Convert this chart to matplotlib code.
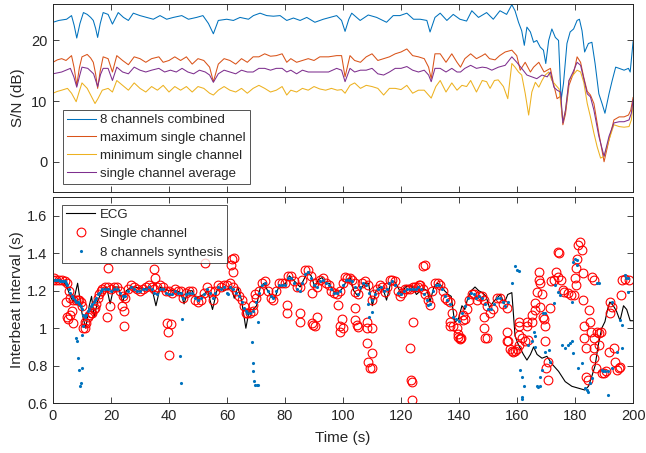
import matplotlib
matplotlib.use("Agg")
import matplotlib.pyplot as plt
from matplotlib.ticker import FuncFormatter

plt.rcParams['font.family'] = ['Liberation Sans', 'DejaVu Sans']

# ---------------- S/N data (time s, dB) ----------------
sn_combined = [
    (0, 23.0), (2, 23.3), (4.7, 23.5), (6.4, 24.1), (7.3, 22.5), (8.2, 20.4), (9.3, 22.8),
    (10.5, 24.6), (11.8, 24.3), (13, 23.8), (13.9, 23.3), (14.7, 22.0), (15.4, 20.5), (16.3, 22.8),
    (17.3, 24.6), (19, 24.3), (20.5, 22.7), (22.5, 24.6), (24.3, 23.8), (26, 23.3), (27.7, 24.5),
    (30, 24.1), (32.3, 23.8), (34.6, 23.5), (36.9, 24.1), (39.2, 23.5), (41.5, 23.8), (44.4, 24.1),
    (46.7, 23.5), (49.5, 23.8), (51.7, 24.1), (53.6, 22.8), (55.3, 21.1), (57, 23.3), (59.9, 23.5),
    (62.2, 23.3), (64.5, 23.8), (67.4, 23.5), (69.1, 24.1), (71.4, 24.5), (73.7, 24.1), (76, 24.0),
    (78.3, 24.1), (80.6, 23.3), (82.9, 23.7), (85.2, 23.3), (87.5, 23.8), (90.3, 23.0), (93.2, 23.5),
    (95.5, 23.8), (97.8, 24.1), (99.5, 23.3), (100.7, 21.5), (102, 23.5), (103, 24.5), (105.9, 23.3),
    (108.7, 24.2), (111.6, 23.8), (115, 23.0), (117.3, 24.1), (119.6, 24.1), (122, 24.5),
    (124.3, 23.5), (126.6, 23.5), (128.9, 23.3), (130, 21.4), (131.7, 23.8), (133.5, 24.5),
    (135.8, 23.3), (138, 24.3), (140.3, 23.5), (142.6, 23.2), (144.4, 24.9), (146.7, 23.8),
    (149.5, 24.6), (151.8, 23.5), (154.1, 24.9), (156.4, 24.3), (158.2, 25.9), (159.3, 24.9),
    (160.5, 23.0), (161.6, 21.6), (162.5, 19.2), (163.4, 22.2), (164.6, 21.4), (165.7, 19.7),
    (166.8, 20.0), (168, 18.9), (169.1, 18.4), (169.9, 16.2), (170.9, 20.0), (172, 21.9),
    (173.2, 20.5), (174.3, 20.0), (175.2, 10.2), (176, 12.9), (177.2, 19.5), (178.3, 21.4),
    (179.5, 21.9), (180.7, 23.3), (181.5, 23.5), (182.4, 21.6), (183.3, 18.1), (184.6, 19.5),
    (185.8, 19.7), (186.9, 16.2), (188.2, 11.2), (189.3, 9.6), (190.3, 8.0), (191.7, 11.2),
    (192.8, 13.4), (194, 15.6), (195.2, 15.4), (196.9, 15.1), (198.4, 15.4), (199, 14.8), (200, 19.8),
]
sn_max = [
    (0, 16.4), (1.5, 16.8), (3, 17.0), (4.5, 16.7), (6.4, 17.5), (7.3, 15.5), (8.2, 12.6), (9.1, 15.5),
    (10, 17.3), (11.8, 17.7), (13, 17.1), (13.9, 16.4), (14.7, 14.5), (15.4, 12.1), (16.3, 15.0),
    (17.3, 17.3), (19, 17.0), (20.5, 14.8), (22, 17.5), (24, 16.7), (26, 16.0), (28, 17.3), (30, 17.0),
    (32, 16.4), (34, 17.0), (36.5, 17.3), (38, 16.4), (40, 16.7), (42, 17.3), (44, 16.7), (46, 17.3),
    (48, 16.1), (50, 17.0), (52, 16.7), (54, 15.6), (55.3, 13.2), (57, 16.1), (59, 17.0), (61, 16.7),
    (63, 16.1), (65, 17.0), (67, 16.4), (69, 17.3), (71, 17.3), (73, 17.8), (75, 17.4), (77, 17.5),
    (79, 17.8), (80.6, 16.4), (82, 17.0), (84, 16.4), (86, 16.7), (88, 17.0), (90, 16.7), (92, 17.3),
    (95, 17.3), (97.8, 17.5), (99.5, 17.5), (100.7, 14.0), (102.4, 17.5), (104, 16.7), (106, 16.4),
    (108, 17.3), (110, 17.8), (112, 16.7), (114, 17.0), (116, 17.3), (118, 17.8), (120, 18.1),
    (122, 18.6), (124, 17.5), (126, 17.3), (128, 17.0), (129.5, 15.6), (130.4, 13.7), (131.7, 17.8),
    (133.5, 17.8), (135.5, 16.4), (137.5, 17.8), (139.3, 16.4), (140.5, 15.6), (142, 17.0),
    (144, 17.8), (146, 17.0), (148, 17.5), (149, 17.8), (150.5, 17.0), (152.4, 16.8), (154, 17.5),
    (155.9, 18.1), (158.2, 18.4), (159.9, 17.5), (161.1, 15.1), (162.8, 16.4), (164.6, 14.8),
    (165.7, 15.6), (167.5, 16.4), (169.3, 14.8), (170.4, 15.1), (171.5, 15.4), (172.7, 12.6),
    (173.8, 10.4), (175, 10.8), (175.8, 6.1), (176.7, 7.9), (177.9, 12.6), (179.6, 14.8),
    (180.7, 17.3), (181.9, 16.4), (183, 13.9), (184.2, 11.6), (185.3, 11.0), (186.5, 9.6),
    (188.2, 4.7), (190, 0.0), (191.7, 3.6), (193.4, 6.9), (195.2, 7.4), (196.9, 7.4), (198.4, 7.7),
    (199.2, 8.5), (200, 10.6),
]
sn_min = [
    (0, 11.3), (1.5, 11.6), (3, 11.8), (5, 12.1), (6.4, 11.3), (8, 9.9), (9, 11.5), (10, 13.0),
    (11.8, 12.1), (13, 11.0), (14.5, 9.6), (15.5, 10.4), (17, 11.8), (19, 12.1), (20.5, 11.5),
    (22, 13.4), (24, 12.6), (26, 11.8), (28, 13.0), (30, 12.1), (32, 11.5), (34, 12.4), (36, 11.8),
    (38, 12.6), (40, 11.5), (42, 12.4), (44, 11.8), (46, 12.4), (48, 11.5), (50, 12.4), (52, 12.1),
    (54, 11.3), (55.3, 11.0), (57, 11.8), (59, 12.4), (61, 11.8), (63, 11.5), (65, 12.1), (67, 11.3),
    (69, 12.1), (71, 12.6), (73, 12.1), (75, 11.5), (77, 11.8), (79, 12.4), (80.6, 11.0), (82, 11.8),
    (84, 11.5), (86, 12.1), (88, 11.8), (90, 12.4), (92, 12.0), (94, 11.8), (96, 12.1), (98, 11.8),
    (99.5, 11.9), (100.7, 11.3), (102.4, 12.6), (104, 13.0), (106, 12.1), (108, 12.6), (110, 12.4),
    (112, 12.1), (114, 11.0), (116, 12.1), (118, 12.1), (120, 11.9), (122, 12.6), (124, 11.3),
    (126, 11.8), (128, 11.8), (130.4, 10.5), (132, 12.4), (133.5, 13.4), (135.5, 11.5), (137.5, 13.0),
    (139.3, 11.8), (141, 12.6), (142.6, 12.4), (144, 13.4), (146, 11.5), (148, 13.4), (149.5, 13.2),
    (150.7, 12.1), (152.2, 13.4), (153.5, 13.5), (155.3, 12.4), (156.8, 10.4), (158.2, 16.2),
    (159.3, 15.6), (160.5, 14.8), (161.6, 14.3), (162.8, 11.3), (164, 7.7), (165.1, 11.5),
    (166.3, 13.1), (167.5, 12.3), (168.6, 13.4), (169.7, 14.3), (170.9, 14.8), (172, 13.4),
    (173.4, 12.6), (174.5, 12.0), (175.8, 6.6), (176.7, 8.5), (177.9, 13.4), (179.3, 14.3),
    (180.7, 15.1), (181.9, 14.8), (183, 13.1), (184.2, 9.6), (185.3, 7.4), (186.5, 4.7), (187.6, 2.5),
    (188.8, 0.6), (190, 0.9), (191.7, 3.6), (193.4, 6.1), (195.2, 5.8), (196.9, 5.7), (198.6, 5.8),
    (199.4, 6.9), (200, 9.6),
]
sn_avg = [
    (0, 14.5), (3, 14.8), (6, 15.4), (7.2, 14.0), (8.2, 12.3), (9.2, 14.2), (10, 15.6), (12, 15.4),
    (14, 14.5), (15.4, 12.4), (16.4, 14.4), (17.3, 15.4), (19, 15.4), (20.5, 13.4), (22, 15.6),
    (24, 14.8), (26, 14.5), (28, 15.6), (30, 15.1), (32, 14.8), (34, 15.1), (36.5, 15.4), (38.5, 14.8),
    (40.5, 15.1), (42.5, 14.8), (44.5, 15.4), (46.5, 14.8), (48.5, 14.5), (50.5, 15.1), (52.5, 14.8),
    (54, 14.3), (55.3, 13.1), (57, 14.5), (59, 15.1), (61, 14.8), (63, 14.5), (65, 15.1), (67, 14.8),
    (69, 14.8), (71, 15.4), (73, 15.4), (75, 15.1), (77, 15.4), (79, 15.4), (80.6, 14.8), (82, 15.1),
    (84, 14.5), (86, 15.1), (88, 14.8), (90, 14.8), (92, 14.8), (95, 14.8), (97.8, 15.4), (99.5, 15.1),
    (100.7, 13.2), (102.4, 15.4), (104, 14.8), (106, 15.1), (108, 15.1), (110, 15.4), (112, 14.5),
    (114, 14.3), (116, 14.8), (118, 15.4), (120, 15.4), (122, 15.7), (124, 15.1), (126, 14.8),
    (128, 15.1), (129.5, 14.3), (130.4, 13.2), (131.7, 15.4), (133.5, 15.4), (135.5, 14.8),
    (137.5, 15.4), (139.3, 14.8), (140.5, 14.8), (142, 15.4), (144, 15.9), (146, 15.4), (148, 15.6),
    (149.5, 15.5), (151.3, 15.1), (153.6, 15.6), (155.9, 15.9), (158.2, 17.3), (159.9, 16.4),
    (161.6, 15.4), (163.4, 14.3), (165.1, 14.0), (166.8, 13.7), (168.6, 14.3), (170.4, 14.0),
    (171.5, 14.8), (172.7, 12.3), (173.8, 11.8), (175, 11.5), (175.8, 6.4), (176.7, 8.5),
    (177.9, 13.4), (179.3, 14.8), (180.7, 16.4), (181.9, 15.9), (183, 13.7), (184.2, 11.2),
    (185.3, 10.7), (186.5, 8.5), (188.2, 4.2), (190, 0.9), (191.7, 4.2), (193.4, 6.4), (195.2, 6.6),
    (196.9, 6.6), (198.6, 6.9), (199.4, 8.0), (200, 10.2),
]

# ---------------- Interbeat interval data (time s, interval s) ----------------
ecg = [
    (0, 1.26), (1.2, 1.26), (2.4, 1.26), (3.6, 1.25), (4.8, 1.22), (6.0, 1.17), (7.0, 1.14),
    (8.5, 1.24), (10, 1.08), (11.3, 1.0), (12.5, 1.12), (13.3, 1.17), (14.2, 1.06), (15.5, 1.15),
    (17, 1.2), (18.5, 1.22), (19.7, 1.13), (21, 1.22), (22.5, 1.22), (24, 1.14), (25.3, 1.2),
    (27, 1.22), (28.5, 1.22), (30, 1.21), (31.5, 1.21), (33, 1.22), (34.3, 1.2), (35.5, 1.12),
    (37, 1.22), (38.5, 1.21), (40, 1.2), (41.5, 1.2), (42.8, 1.2), (44, 1.19), (45.2, 1.13),
    (46.5, 1.2), (48, 1.2), (49.3, 1.16), (50.5, 1.17), (52, 1.18), (53.3, 1.2), (55, 1.1),
    (56.5, 1.2), (57.7, 1.22), (59, 1.2), (60.3, 1.21), (61.5, 1.22), (62.5, 1.16), (63.7, 1.22),
    (65, 1.15), (66.5, 1.0), (67.7, 1.1), (69, 1.1), (70.2, 1.12), (71.5, 1.22), (72.8, 1.24),
    (74, 1.2), (75.3, 1.17), (76.5, 1.16), (77.8, 1.22), (79, 1.23), (80.2, 1.24), (81.5, 1.28),
    (82.7, 1.26), (84, 1.24), (85.2, 1.22), (86.5, 1.26), (87.8, 1.3), (89, 1.28), (90.3, 1.22),
    (91.5, 1.26), (92.8, 1.27), (94, 1.24), (95.3, 1.24), (96.5, 1.2), (97.8, 1.19), (99, 1.2),
    (100.2, 1.22), (101.3, 1.26), (102.5, 1.27), (103.7, 1.2), (105.2, 1.17), (106.5, 1.22),
    (107.7, 1.24), (108.8, 1.24), (110.1, 1.12), (111.4, 1.2), (112.7, 1.22), (114, 1.2),
    (115, 1.15), (116.4, 1.24), (117.7, 1.25), (118.9, 1.22), (120.2, 1.18), (121.5, 1.22),
    (122.8, 1.23), (124, 1.22), (125.3, 1.18), (126.7, 1.2), (128, 1.21), (129, 1.2), (130, 1.14),
    (131.3, 1.22), (132.5, 1.24), (133.7, 1.23), (135, 1.2), (136.3, 1.18), (137.3, 1.17),
    (138.5, 1.03), (139.8, 1.05), (141, 1.12), (142, 1.1), (143, 1.16), (144.2, 1.2), (145.5, 1.22),
    (146.8, 1.2), (148, 1.19), (149.3, 1.17), (150.5, 1.11), (151.8, 1.14), (153, 1.16),
    (154.3, 1.18), (155.5, 1.13), (156.8, 1.18), (158.2, 1.19), (159.3, 0.96), (160.5, 0.91),
    (162.2, 0.86), (163.4, 0.83), (164.6, 0.86), (165.7, 0.9), (166.9, 0.86), (168.6, 0.84),
    (170.3, 0.85), (172, 0.81), (174.3, 0.77), (176.6, 0.715), (178.9, 0.69), (181.2, 0.68),
    (183.4, 0.67), (184.6, 0.69), (185.5, 0.73), (186.9, 0.8), (188, 0.91), (189.2, 1.0),
    (190.3, 1.035), (191.2, 1.1), (192, 1.14), (193.2, 1.12), (194.3, 1.09), (195.5, 1.04),
    (196.7, 1.12), (197.8, 1.1), (199, 1.04), (200, 1.04),
]

single_channel = [
    # main trace
    (0, 1.26), (0.5, 1.27), (1, 1.26), (2, 1.26), (3, 1.26), (4, 1.25), (5, 1.24), (5.5, 1.2),
    (6, 1.16), (7, 1.15), (8, 1.15), (8.5, 1.15), (9, 1.15), (9.5, 1.14), (10, 1.12), (10.5, 1.0),
    (11, 1.0), (11.5, 1.03), (12, 1.06), (12.5, 1.07), (13, 1.08), (13.5, 1.08), (14, 1.1),
    (14.5, 1.11), (15, 1.13), (15.5, 1.16), (16, 1.18), (16.5, 1.2), (17, 1.21), (18, 1.22),
    (19, 1.22), (20, 1.21), (21, 1.22), (22, 1.22), (23, 1.2), (24, 1.17), (25, 1.16), (26, 1.21),
    (27, 1.23), (28, 1.22), (29, 1.21), (30, 1.2), (31, 1.21), (32, 1.22), (33, 1.23), (34, 1.22),
    (35, 1.21), (36, 1.22), (37, 1.23), (38, 1.22), (39, 1.2), (40, 1.2), (41, 1.19), (42, 1.21),
    (43, 1.2), (44, 1.2), (45, 1.16), (46, 1.19), (47, 1.2), (48, 1.2), (49, 1.15), (50, 1.14),
    (51, 1.15), (52, 1.19), (53, 1.22), (54, 1.2), (55, 1.15), (56, 1.2), (57, 1.23), (58, 1.22),
    (59, 1.23), (60, 1.23), (61, 1.24), (62, 1.22), (63, 1.2), (64, 1.17), (65, 1.15), (66, 1.12),
    (66.5, 1.08), (67, 1.08), (68, 1.08), (69, 1.09), (70, 1.16), (71, 1.2), (72, 1.24), (73, 1.25),
    (74, 1.2), (75, 1.16), (76, 1.15), (77, 1.2), (78, 1.24), (79, 1.24), (80, 1.24), (81, 1.28),
    (82, 1.28), (83, 1.25), (84, 1.22), (85, 1.22), (86, 1.26), (87, 1.31), (88, 1.31), (89, 1.28),
    (90, 1.24), (91, 1.22), (92, 1.26), (93, 1.27), (94, 1.24), (95, 1.23), (96, 1.2), (97, 1.19),
    (98, 1.18), (99, 1.2), (100, 1.24), (100.7, 1.275), (101.5, 1.27), (102.4, 1.27), (103.2, 1.26),
    (104.1, 1.24), (105.3, 1.18), (106.4, 1.24), (107.6, 1.25), (108.7, 1.23), (109.9, 1.15),
    (110.7, 1.18), (111.6, 1.21), (112.8, 1.23), (113.6, 1.22), (114.5, 1.195), (115.3, 1.22),
    (116.2, 1.26), (117, 1.26), (117.9, 1.25), (118.8, 1.2), (119.6, 1.17), (120.5, 1.19),
    (121.4, 1.21), (122.2, 1.21), (123.1, 1.21), (124, 1.22), (124.8, 1.22), (125.7, 1.22),
    (126.6, 1.23), (127.5, 1.21), (128.3, 1.18), (129.2, 1.15), (130, 1.124), (130.8, 1.2),
    (131.7, 1.24), (132.6, 1.24), (133.4, 1.23), (134.3, 1.2), (135.2, 1.16), (136, 1.15),
    (136.9, 1.14), (137.5, 1.08), (138, 1.01), (139.2, 1.0), (139.8, 0.97), (140.3, 0.95),
    (140.8, 0.95), (141.5, 1.07), (142.6, 1.105), (143.5, 1.15), (144.3, 1.18), (145.2, 1.18),
    (146.1, 1.15), (147, 1.17), (147.8, 1.17), (148.7, 1.15), (149.5, 1.12), (150.7, 1.08),
    (151.8, 1.1), (153, 1.16), (154.1, 1.16), (155.3, 1.13), (156.4, 1.11), (157, 0.93),
    (157.6, 0.89), (158.2, 0.88), (158.7, 0.875), (159.3, 0.88), (159.9, 0.89), (160.5, 0.91),
    # scattered estimates
    (4.5, 1.14), (5.3, 1.05), (5.9, 1.07), (6.4, 1.09), (6.8, 1.03), (4.7, 1.06), (11, 1.035),
    (19.1, 1.32), (18.5, 1.06), (19.7, 1.12), (24.5, 1.09), (24.5, 1.01), (23.7, 1.12),
    (34.8, 1.316), (35.2, 1.266), (39.2, 1.03), (39.8, 0.98), (40.6, 1.02), (39.9, 0.857),
    (52.4, 1.346), (61.7, 1.37), (62.4, 1.375), (61.5, 1.34), (62.2, 1.3), (69.7, 1.18),
    (69.1, 1.124), (80.6, 1.124), (80.6, 1.08), (85.2, 1.08), (85.2, 1.035), (89.2, 1.026),
    (89.8, 1.017), (90.3, 1.01), (90.9, 1.06), (89.2, 1.186), (98.4, 1.124), (99, 1.01),
    (99, 0.98), (99.6, 1.05), (100.1, 1.0), (104.1, 1.106), (104.1, 1.044), (104.7, 1.017),
    (105.3, 1.008), (104.1, 1.195), (108.2, 1.035), (108.2, 1.0), (110.1, 1.0), (108.4, 0.92),
    (110.1, 0.866), (108.7, 0.822), (109.3, 0.786), (109.9, 0.786), (123.1, 0.893), (124, 1.035),
    (123.3, 0.724), (123.9, 0.715), (123.7, 0.618), (127.7, 1.334), (128.3, 1.337), (126.2, 1.23),
    (136.8, 1.035), (137, 1.01), (140.3, 0.94), (139.8, 0.955), (141.5, 1.044), (142, 1.05),
    (148.5, 1.06), (148.5, 1.0), (149.1, 0.946), (149.5, 0.946), (156.4, 0.98), (156.4, 0.93),
    (160.5, 1.035), (160.5, 1.01), (160.5, 0.964), (161.6, 0.946), (162.8, 0.93), (163.3, 1.01),
    (163.3, 1.035), (163.9, 0.937), (165.1, 1.035), (165.1, 1.07), (166.2, 1.133), (166.2, 1.097),
    (166.8, 1.195), (167.4, 1.30), (167.4, 1.257), (168, 1.24), (168.6, 1.18), (168, 1.115),
    (169.1, 1.06), (169.4, 1.05), (169.6, 1.01), (169.6, 0.93), (170, 0.786), (170.6, 0.724),
    (170.6, 0.822), (171.2, 1.106), (171.7, 1.25), (172.8, 1.257), (173.4, 1.30), (174.2, 1.275),
    (174, 1.408), (174.6, 1.40), (175.1, 1.257), (175.7, 1.204), (176.2, 1.195), (177.4, 1.186),
    (178.5, 1.177), (179.7, 1.177), (180.3, 1.23), (179.9, 1.266), (180.3, 1.32), (180.6, 1.37),
    (181.1, 1.444), (181.8, 1.46), (182.3, 1.417), (182.6, 1.293), (182.6, 1.15), (183.2, 1.01),
    (183.2, 0.946), (183.8, 0.893), (183.8, 0.742), (184.4, 0.724), (184.9, 1.097), (185.3, 1.035),
    (185.5, 0.98), (185.7, 1.275), (186.4, 1.257), (186.6, 0.946), (186.6, 0.893), (186.6, 0.84),
    (187.2, 0.786), (187.7, 0.98), (188.3, 0.973), (188.9, 0.98), (188.3, 0.91), (189.4, 0.76),
    (190, 0.76), (190.5, 0.77), (191.7, 0.875), (192, 1.08), (192.2, 1.142), (192.8, 1.115),
    (193.4, 0.893), (193.9, 0.822), (194.5, 0.778), (195.1, 0.786), (195.6, 0.795), (195.8, 1.177),
    (196.2, 1.257), (197.3, 1.262), (198.5, 1.257),
]

synthesis_8ch = [
    # main trace
    (0, 1.26), (0.5, 1.26), (1, 1.26), (1.5, 1.26), (2, 1.26), (2.5, 1.25), (3, 1.25), (3.5, 1.25),
    (4, 1.25), (4.5, 1.24), (5, 1.23), (5.5, 1.21), (6, 1.19), (6.5, 1.17), (7, 1.16), (7.5, 1.15),
    (8, 1.14), (8.5, 1.14), (9, 1.13), (9.5, 1.12), (10, 1.1), (10.5, 1.07), (11, 1.06),
    (11.5, 1.07), (12, 1.09), (12.5, 1.1), (13, 1.12), (13.5, 1.13), (14, 1.14), (14.5, 1.15),
    (15, 1.16), (15.5, 1.18), (16, 1.19), (16.5, 1.2), (17, 1.21), (18, 1.21), (19, 1.21), (20, 1.2),
    (21, 1.21), (22, 1.21), (23, 1.19), (24, 1.17), (25, 1.17), (26, 1.2), (27, 1.22), (28, 1.21),
    (29, 1.2), (30, 1.2), (31, 1.21), (32, 1.21), (33, 1.22), (34, 1.21), (35, 1.19), (36, 1.18),
    (37, 1.21), (38, 1.21), (39, 1.19), (40, 1.18), (41, 1.18), (42, 1.2), (43, 1.19), (44, 1.19),
    (45, 1.16), (46, 1.18), (47, 1.19), (48, 1.19), (49, 1.16), (50, 1.15), (51, 1.16), (52, 1.18),
    (53, 1.21), (54, 1.19), (55, 1.16), (56, 1.19), (57, 1.22), (58, 1.21), (59, 1.22), (60, 1.19),
    (60.5, 1.18), (61, 1.22), (62, 1.21), (63, 1.19), (64, 1.17), (65, 1.14), (66, 1.11),
    (66.5, 1.09), (67, 1.08), (68, 1.08), (69, 1.09), (70, 1.14), (71, 1.19), (72, 1.23), (73, 1.24),
    (74, 1.2), (75, 1.17), (76, 1.16), (77, 1.2), (78, 1.23), (79, 1.23), (80, 1.23), (81, 1.27),
    (82, 1.27), (83, 1.24), (84, 1.21), (85, 1.2), (86, 1.24), (87, 1.29), (88, 1.3), (89, 1.27),
    (90, 1.23), (91, 1.22), (92, 1.25), (93, 1.26), (94, 1.24), (95, 1.23), (96, 1.21), (97, 1.19),
    (98, 1.19), (99, 1.2), (100, 1.23), (101, 1.26), (102, 1.26), (103, 1.25), (104, 1.22),
    (105, 1.18), (106, 1.22), (107, 1.24), (108, 1.23), (109, 1.19), (110, 1.15), (111, 1.18),
    (112, 1.21), (113, 1.22), (114, 1.2), (115, 1.21), (116, 1.24), (117, 1.25), (118, 1.23),
    (119, 1.19), (120, 1.18), (121, 1.2), (122, 1.21), (123, 1.21), (124, 1.21), (125, 1.21),
    (126, 1.22), (127, 1.21), (128, 1.18), (129, 1.15), (130, 1.13), (131, 1.2), (132, 1.23),
    (133, 1.23), (134, 1.21), (135, 1.17), (136, 1.15), (137, 1.13), (138, 1.06), (139, 1.05),
    (140, 1.04), (141, 1.08), (142, 1.12), (143, 1.16), (144, 1.19), (145, 1.18), (146, 1.16),
    (147, 1.17), (148, 1.16), (149, 1.13), (150, 1.1), (151, 1.1), (152, 1.13), (153, 1.16),
    (154, 1.16), (155, 1.14), (156, 1.12), (157, 1.14),
    # scattered estimates
    (7.9, 0.946), (8.2, 0.93), (8.5, 0.84), (9.1, 0.778), (9.9, 0.786), (9.5, 0.707), (9.3, 0.69),
    (9.9, 0.964), (10.2, 1.01), (43.8, 0.85), (44.4, 1.05), (44, 0.71), (70.8, 1.035),
    (68.5, 0.924), (68.8, 0.817), (69, 0.772), (69.3, 0.72), (69.7, 0.698), (70.2, 0.698),
    (70.6, 0.698), (110, 1.085), (109.1, 1.06), (108.7, 1.13), (129.3, 1.124), (159.3, 1.334),
    (159.9, 1.31), (160.5, 1.305), (158.2, 1.24), (161.1, 0.778), (161.6, 0.742), (161.8, 0.635),
    (161.6, 0.62), (162.5, 0.69), (163.9, 0.91), (165.1, 0.93), (165.7, 0.98), (166.2, 0.9),
    (166.8, 0.69), (167.3, 0.688), (167.9, 0.69), (166.2, 0.96), (167.9, 0.742), (168.6, 0.778),
    (169.1, 1.08), (169.7, 1.08), (169.7, 0.875), (170.9, 0.884), (171.4, 0.822), (172.6, 1.133),
    (173.2, 1.23), (174.1, 1.195), (174.9, 1.177), (175.4, 0.91), (176.6, 0.893), (177.7, 0.91),
    (178.3, 0.92), (178.9, 0.93), (179.1, 1.142), (179.4, 1.355), (179.9, 1.37), (180.5, 1.365),
    (180.5, 1.337), (179.4, 0.866), (181.1, 0.786), (182.3, 0.813), (183.4, 0.68), (184, 0.672),
    (184.6, 0.662), (185.2, 0.707), (185.7, 0.733), (187.5, 1.24), (188.1, 1.24), (189.2, 0.778),
    (189.8, 0.77), (190.4, 0.77), (191.5, 0.77), (191.5, 0.645), (192.6, 0.786), (194.4, 0.875),
    (195.5, 1.044), (196.1, 1.017), (196.1, 0.893), (197.1, 1.284), (197.7, 1.27), (198.2, 1.266),
    (198.4, 1.195), (192.8, 1.14),
]

x_ticks = [0, 20, 40, 60, 80, 100, 120, 140, 160, 180, 200]
sn_ticks = [0, 10, 20]
ibi_ticks = [0.6, 0.8, 1.0, 1.2, 1.4, 1.6]

# ---------------- Figure ----------------
text_color = '#262626'
fig = plt.figure(figsize=(6.46, 4.53), dpi=100)
ax1 = fig.add_axes([0.082, 0.576, 0.898, 0.415])
ax2 = fig.add_axes([0.082, 0.110, 0.898, 0.455])


def unzip(pts):
    return [p[0] for p in pts], [p[1] for p in pts]


lw = 0.75
for pts, col, lab in [(sn_combined, '#0072BD', '8 channels combined'),
                      (sn_max, '#D95319', 'maximum single channel'),
                      (sn_min, '#EDB120', 'minimum single channel'),
                      (sn_avg, '#7E2F8E', 'single channel average')]:
    t, v = unzip(pts)
    ax1.plot(t, v, color=col, lw=lw, label=lab)

t, v = unzip(ecg)
ax2.plot(t, v, color='black', lw=0.8, label='ECG')
t, v = unzip(single_channel)
ax2.plot(t, v, 'o', ls='none', mfc='none', mec='red', ms=6.3, mew=0.8, label='Single channel')
t, v = unzip(synthesis_8ch)
ax2.plot(t, v, '.', ls='none', color='#0072BD', ms=2.5, label='8 channels synthesis')

for ax in (ax1, ax2):
    ax.set_xlim(0, 200)
    ax.set_xticks(x_ticks)
    ax.tick_params(direction='in', top=True, right=True, length=4, width=0.6,
                   colors=text_color, labelsize=10.5, pad=4)
    for s in ax.spines.values():
        s.set_linewidth(0.7)
        s.set_color(text_color)

ax1.set_ylim(-5, 26)
ax1.set_yticks(sn_ticks)
ax1.set_xticklabels([])
ax1.set_ylabel('S/N (dB)', fontsize=11, color=text_color, labelpad=4)

ax2.set_ylim(0.6, 1.7)
ax2.set_yticks(ibi_ticks)
ax2.yaxis.set_major_formatter(FuncFormatter(lambda y, p: ('%g' % round(y, 2))))
ax2.set_ylabel('Interbeat Interval (s)', fontsize=11, color=text_color, labelpad=2)
ax2.set_xlabel('Time (s)', fontsize=11, color=text_color, labelpad=6)

leg_kw = dict(fontsize=9.5, frameon=True, fancybox=False, edgecolor=text_color,
              handlelength=2.2, handletextpad=0.35, borderpad=0.3, borderaxespad=0.0)
leg1 = ax1.legend(loc='lower left', bbox_to_anchor=(0.017, 0.045), labelspacing=0.42, **leg_kw)
leg1.get_frame().set_linewidth(0.7)
for txt in leg1.get_texts():
    txt.set_color(text_color)

leg2 = ax2.legend(loc='upper left', bbox_to_anchor=(0.016, 0.962), labelspacing=0.5, **leg_kw)
leg2.get_frame().set_linewidth(0.7)
for txt in leg2.get_texts():
    txt.set_color(text_color)

fig.savefig('out.png', dpi=100)
